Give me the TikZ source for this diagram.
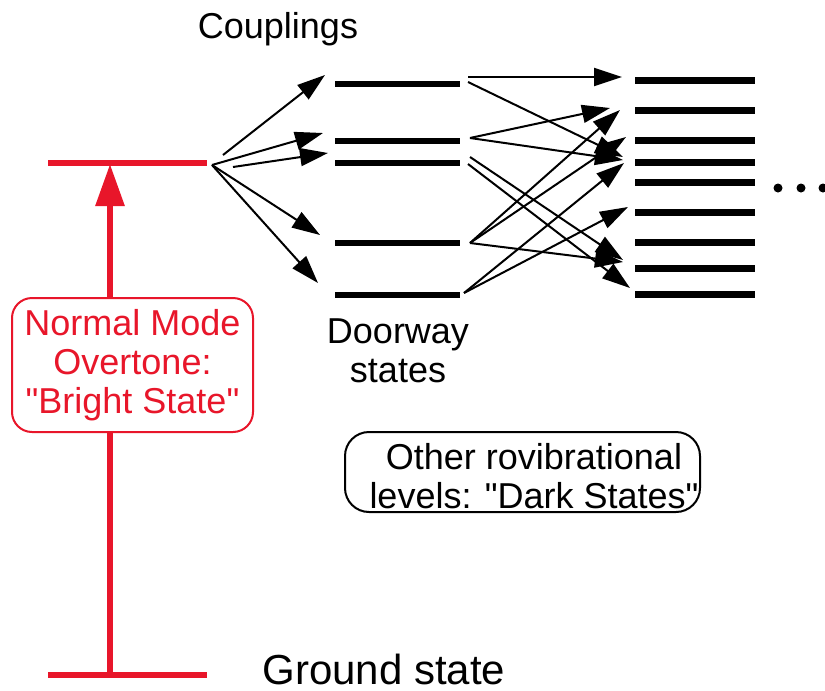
\documentclass[tikz,border=0pt]{standalone}
\usepackage{fontspec}
\setmainfont{Liberation Sans}[Ligatures=TeXOff]
\usetikzlibrary{arrows.meta}
\definecolor{brightred}{RGB}{232,22,42}
\begin{document}
\begin{tikzpicture}[x=0.5pt,y=-0.5pt,
  lvl/.style={rectangle,inner sep=0pt,fill=black,minimum height=3pt},
  doorlvl/.style={lvl,minimum width=62.5pt},
  darklvl/.style={lvl,minimum width=60pt,minimum height=3.5pt},
  redlvl/.style={lvl,fill=brightred,minimum width=79.5pt},
  couple/.style={line width=1pt,-{Triangle[length=14pt,width=9pt]}},
  lab/.style={font=\fontsize{18}{19.5}\selectfont,inner sep=0pt}
]
\useasboundingbox (0,0) rectangle (825,691);

% energy levels
\node[redlvl] (bright) at (127.5,163) {};
\node[redlvl] (ground) at (127.5,675) {};
\foreach \n/\y in {1/84,2/141,3/163,4/243,5/295}
  \node[doorlvl] (door\n) at (397.5,\y) {};
\foreach \n/\y in {1/80,2/110,3/140,4/162,5/182,6/212,7/242,8/268,9/294}
  \node[darklvl] (dark\n) at (695,\y) {};

% excitation arrow from the ground state
\coordinate (exbot) at (110,675);
\coordinate (extop) at (110,164);
\draw[brightred,line width=3pt,-{Triangle[length=21pt,width=14pt]}] (exbot) -- (extop);

% bright state label box
\node[lab,draw=brightred,line width=1pt,rounded corners=10pt,fill=white,
      text=brightred,align=center,minimum width=120.5pt,minimum height=67pt]
      (brightbox) at (132.5,365) {Normal Mode\\Overtone:\\"Bright State"};

% couplings from the bright state to the doorway states
\coordinate (fa) at (223,155);
\coordinate (fo) at (212,165);
\coordinate (fb) at (233,167);
\coordinate (c1) at (325,75);
\coordinate (c2) at (323,133);
\coordinate (c3) at (328,153);
\coordinate (c4) at (320,235);
\coordinate (c5) at (318,283);
\draw[couple] (fa) -- (c1);
\draw[couple] (fo) -- (c2);
\draw[couple] (fb) -- (c3);
\draw[couple] (fo) -- (c4);
\draw[couple] (fo) -- (c5);

% couplings from the doorway states to the dark states
\coordinate (s1a) at (468,77);
\coordinate (s1b) at (468,82);
\coordinate (s2) at (470,138);
\coordinate (s3a) at (470,157);
\coordinate (s3b) at (468,164);
\coordinate (s4) at (470,243);
\coordinate (s5) at (464,293);
\coordinate (t1) at (622,77);
\coordinate (t2) at (623,157);
\coordinate (t3) at (610,108);
\coordinate (t4) at (623,160);
\coordinate (t5) at (623,260);
\coordinate (t6) at (630,288);
\coordinate (t7) at (620,110);
\coordinate (t8) at (626,137);
\coordinate (t9) at (623,262);
\coordinate (t10) at (624,163);
\coordinate (t11) at (628,207);
\draw[couple] (s1a) -- (t1);
\draw[couple] (s1b) -- (t2);
\draw[couple] (s2) -- (t3);
\draw[couple] (s2) -- (t4);
\draw[couple] (s3a) -- (t5);
\draw[couple] (s3b) -- (t6);
\draw[couple] (s4) -- (t7);
\draw[couple] (s4) -- (t8);
\draw[couple] (s4) -- (t9);
\draw[couple] (s5) -- (t10);
\draw[couple] (s5) -- (t11);

% continuation dots
\foreach \x in {778,801,823} \fill (\x,188) circle (4.5);

% labels
\node[lab,anchor=base] (cpl) at (278,38) {Couplings};
\node[lab,align=center] (doorlab) at (398,351) {Doorway\\states};
\node[font=\fontsize{21}{24}\selectfont,inner sep=0pt,anchor=base west] (gndlab) at (262,684) {Ground state};
\node[draw,line width=1pt,rounded corners=12pt,minimum width=177.5pt,minimum height=40pt,inner sep=0pt] (darkbox) at (522.5,472) {};
\node[lab,align=center] (darklab) at (534,476) {Other rovibrational\\levels: "Dark States"};
\end{tikzpicture}
\end{document}
